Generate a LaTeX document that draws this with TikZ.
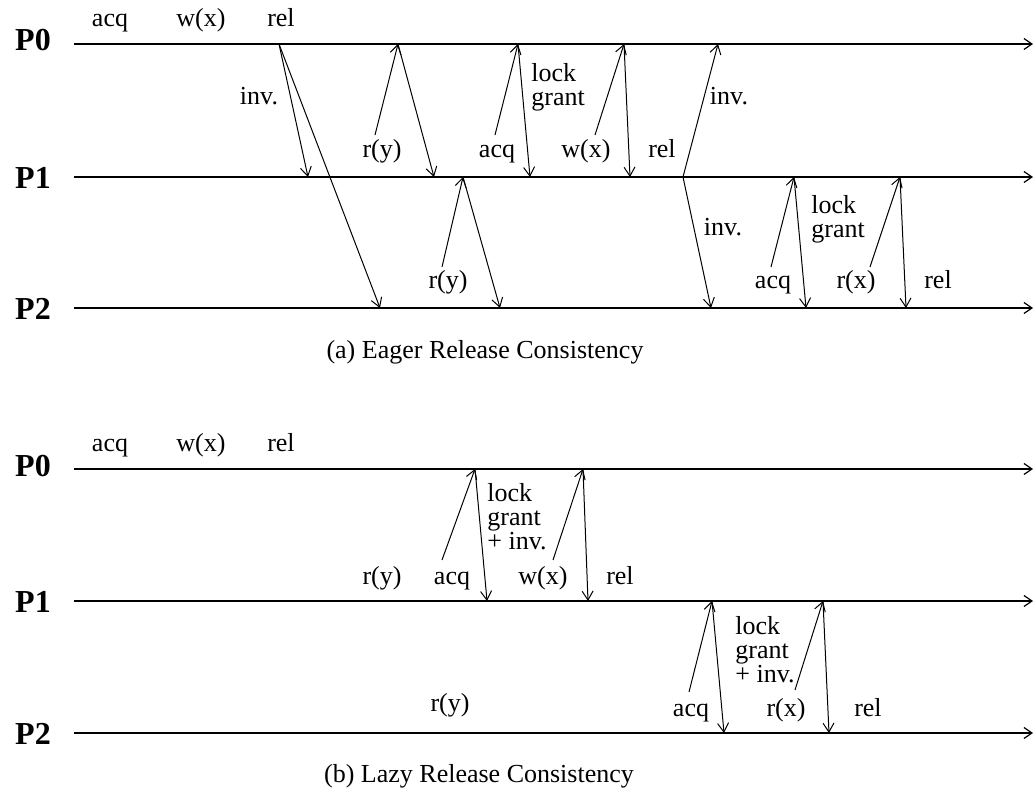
\documentclass[tikz,border=0pt]{standalone}
\usepackage{fontspec}
\setmainfont{Liberation Serif}
\usetikzlibrary{arrows.meta}

\begin{document}
\begin{tikzpicture}[
          x=0.5pt, y=-0.5pt,
          every node/.style={font=\fontsize{13}{12}\selectfont, inner sep=0pt},
          proc/.style={font=\fontsize{16}{16}\selectfont\bfseries},
          lbl/.style={anchor=base},
          note/.style={anchor=west, align=left},
          tline/.style={-{Straight Barb[length=4pt,width=5.5pt]}, line width=0.6pt},
          msg/.style={-{Straight Barb[length=4.5pt,width=5.5pt]}, line width=0.5pt}
      ]
        \useasboundingbox (0,0) rectangle (1034,790);

        % (a) eager
        \node[proc] (ap0) at (33,40) {P0};
        \node[proc] (ap1) at (33,178) {P1};
        \node[proc] (ap2) at (33,309) {P2};
        \coordinate (ap0s) at (74,44);   \coordinate (ap0e) at (1033,44);
        \coordinate (ap1s) at (74,177);  \coordinate (ap1e) at (1033,177);
        \coordinate (ap2s) at (74,308);  \coordinate (ap2e) at (1033,308);
        \draw[tline] (ap0s) -- (ap0e);
        \draw[tline] (ap1s) -- (ap1e);
        \draw[tline] (ap2s) -- (ap2e);

        \node[lbl] (aacq0) at (110,27) {acq};
        \node[lbl] (awx0) at (201,27) {w(x)};
        \node[lbl] (arel0) at (281,27) {rel};

        \coordinate (arel) at (279,44);
        \coordinate (ainv1) at (308,177);
        \coordinate (ainv2) at (380,308);
        \draw[msg] (arel) -- (ainv1);
        \draw[msg] (arel) -- (ainv2);
        \node[lbl] (ainvl) at (259,105) {inv.};

        \coordinate (ary1t) at (375,135);
        \coordinate (ary1m) at (398,44);
        \coordinate (ary1e) at (434,177);
        \draw[msg] (ary1t) -- (ary1m);
        \draw[msg] (ary1m) -- (ary1e);
        \node[lbl] (ary1) at (382,158) {r(y)};

        \coordinate (ary2t) at (442,267);
        \coordinate (ary2m) at (463,177);
        \coordinate (ary2e) at (500,308);
        \draw[msg] (ary2t) -- (ary2m);
        \draw[msg] (ary2m) -- (ary2e);
        \node[lbl] (ary2) at (448,289) {r(y)};

        \coordinate (aacq1t) at (495,135);
        \coordinate (aacq1m) at (518,44);
        \coordinate (aacq1e) at (530,177);
        \draw[msg] (aacq1t) -- (aacq1m);
        \draw[msg] (aacq1m) -- (aacq1e);
        \node[lbl] (aacq1) at (497,158) {acq};
        \node[note] (agrant1) at (531,87) {lock\\grant};

        \coordinate (awx1t) at (595,135);
        \coordinate (awx1m) at (624,44);
        \coordinate (awx1e) at (630,177);
        \draw[msg] (awx1t) -- (awx1m);
        \draw[msg] (awx1m) -- (awx1e);
        \node[lbl] (awx1) at (586,158) {w(x)};
        \node[lbl] (arel1) at (662,158) {rel};

        \coordinate (arel1p) at (683,177);
        \coordinate (ainv3) at (718,44);
        \coordinate (ainv4) at (711,308);
        \draw[msg] (arel1p) -- (ainv3);
        \draw[msg] (arel1p) -- (ainv4);
        \node[lbl] (ainvl3) at (729,105) {inv.};
        \node[lbl] (ainvl4) at (723,236) {inv.};

        \coordinate (aacq2t) at (771,267);
        \coordinate (aacq2m) at (794,177);
        \coordinate (aacq2e) at (806,308);
        \draw[msg] (aacq2t) -- (aacq2m);
        \draw[msg] (aacq2m) -- (aacq2e);
        \node[lbl] (aacq2) at (773,289) {acq};
        \node[note] (agrant2) at (811,219) {lock\\grant};

        \coordinate (arx2t) at (870,267);
        \coordinate (arx2m) at (900,177);
        \coordinate (arx2e) at (906,308);
        \draw[msg] (arx2t) -- (arx2m);
        \draw[msg] (arx2m) -- (arx2e);
        \node[lbl] (arx2) at (856,289) {r(x)};
        \node[lbl] (arel2) at (938,289) {rel};

        \node[lbl] (acap) at (485,359) {(a) Eager Release Consistency};

        % (b) lazy
        \node[proc] (bp0) at (33,466) {P0};
        \node[proc] (bp1) at (33,602) {P1};
        \node[proc] (bp2) at (33,734) {P2};
        \coordinate (bp0s) at (74,469);  \coordinate (bp0e) at (1033,469);
        \coordinate (bp1s) at (74,601);  \coordinate (bp1e) at (1033,601);
        \coordinate (bp2s) at (74,733);  \coordinate (bp2e) at (1033,733);
        \draw[tline] (bp0s) -- (bp0e);
        \draw[tline] (bp1s) -- (bp1e);
        \draw[tline] (bp2s) -- (bp2e);

        \node[lbl] (bacq0) at (110,452) {acq};
        \node[lbl] (bwx0) at (201,452) {w(x)};
        \node[lbl] (brel0) at (281,452) {rel};

        \node[lbl] (bry1) at (382,585) {r(y)};
        \coordinate (bacq1t) at (442,560);
        \coordinate (bacq1m) at (475,469);
        \coordinate (bacq1e) at (487,601);
        \draw[msg] (bacq1t) -- (bacq1m);
        \draw[msg] (bacq1m) -- (bacq1e);
        \node[lbl] (bacq1) at (452,585) {acq};
        \node[note] (bgrant1) at (487,517) {lock\\grant\\+ inv.};

        \coordinate (bwx1t) at (553,560);
        \coordinate (bwx1m) at (583,469);
        \coordinate (bwx1e) at (588,601);
        \draw[msg] (bwx1t) -- (bwx1m);
        \draw[msg] (bwx1m) -- (bwx1e);
        \node[lbl] (bwx1) at (543,585) {w(x)};
        \node[lbl] (brel1) at (620,585) {rel};

        \node[lbl] (bry2) at (450,712) {r(y)};
        \coordinate (bacq2t) at (689,692);
        \coordinate (bacq2m) at (712,601);
        \coordinate (bacq2e) at (724,733);
        \draw[msg] (bacq2t) -- (bacq2m);
        \draw[msg] (bacq2m) -- (bacq2e);
        \node[lbl] (bacq2) at (691,717) {acq};
        \node[note] (bgrant2) at (735,650) {lock\\grant\\+ inv.};

        \coordinate (brx2t) at (795,690);
        \coordinate (brx2m) at (823,601);
        \coordinate (brx2e) at (829,733);
        \draw[msg] (brx2t) -- (brx2m);
        \draw[msg] (brx2m) -- (brx2e);
        \node[lbl] (brx2) at (786,717) {r(x)};
        \node[lbl] (brel2) at (868,717) {rel};

        \node[lbl] (bcap) at (479,783) {(b) Lazy Release Consistency};
      \end{tikzpicture}
\end{document}
